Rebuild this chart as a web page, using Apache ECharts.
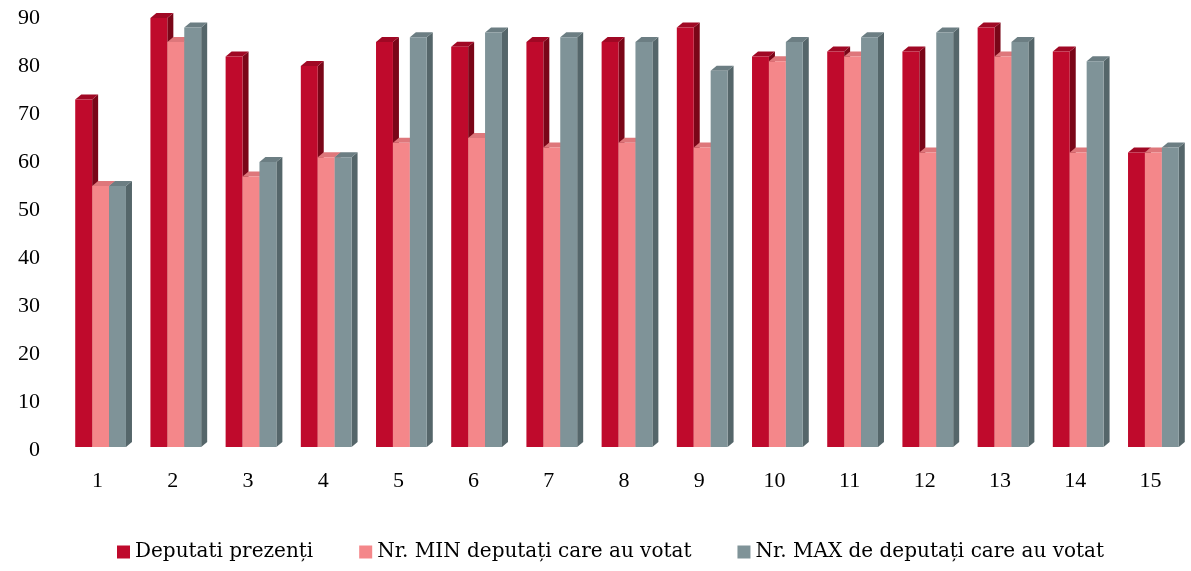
<!DOCTYPE html>
<html>
<head>
<meta charset="utf-8">
<script src="https://cdn.jsdelivr.net/npm/echarts@6/dist/echarts.min.js"></script>
<style>
  html, body { margin: 0; padding: 0; background: #fff; }
  #chart { width: 1191px; height: 571px; }
</style>
</head>
<body>
<div id="chart"></div>
<script>
var categories = ["1","2","3","4","5","6","7","8","9","10","11","12","13","14","15"];
var deputatiPrezenti = [73, 90, 82, 80, 85, 84, 85, 85, 88, 82, 83, 83, 88, 83, 62];
var minVotat = [55, 85, 57, 61, 64, 65, 63, 64, 63, 81, 82, 62, 82, 62, 62];
var maxVotat = [55, 88, 60, 61, 86, 87, 86, 85, 79, 85, 86, 87, 85, 81, 63];
var seriesNames = ["Deputati prezenți", "Nr. MIN deputați care au votat", "Nr. MAX de deputați care au votat"];

var font = "Liberation Serif";

// front, side, top colours
var palette = [
  ["#BF0A2C", "#7A0618", "#A00824"],
  ["#F4878A", "#C45F63", "#DE777B"],
  ["#7F9398", "#55666A", "#6C7E83"]
];

function bar3d(idx) {
  var c = palette[idx];
  return function (params, api) {
    var cat = api.value(0);
    var val = api.value(1);
    var band = api.size([1, 0])[0];
    var w = band * 0.225;
    var base = api.coord([cat, 0]);
    var top = api.coord([cat, val]);
    var x0 = base[0] - 1.5 * w + idx * w + 3;
    var x1 = x0 + w;
    var dx = 6, dy = 5;
    var yb = base[1] - 3;
    return {
      type: "group",
      children: [
        { type: "polygon", shape: { points: [[x1, top[1]], [x1 + dx, top[1] - dy], [x1 + dx, yb - dy], [x1, yb]] }, style: { fill: c[1] } },
        { type: "polygon", shape: { points: [[x0, top[1]], [x0 + dx, top[1] - dy], [x1 + dx, top[1] - dy], [x1, top[1]]] }, style: { fill: c[2] } },
        { type: "rect", shape: { x: x0, y: top[1], width: w, height: yb - top[1] }, style: { fill: c[0] } }
      ]
    };
  };
}

function toData(arr) {
  return arr.map(function (v, i) { return [i, v]; });
}

var myChart = echarts.init(document.getElementById("chart"));
var option = {
  animation: false,
  textStyle: { fontFamily: font },
  grid: { left: 60, right: 3, top: 18, bottom: 121 },
  legend: {
    bottom: 4,
    left: 112,
    icon: "rect",
    itemWidth: 13,
    itemHeight: 13,
    itemGap: 46,
    textStyle: { fontFamily: "DejaVu Serif", fontSize: 20, color: "#000" },
    data: seriesNames
  },
  xAxis: {
    type: "category",
    data: categories,
    axisLine: { show: false },
    axisTick: { show: false },
    axisLabel: { fontFamily: font, fontSize: 22, color: "#000", margin: 20 }
  },
  yAxis: {
    type: "value",
    min: 0,
    max: 90,
    interval: 10,
    splitLine: { show: false },
    axisLine: { show: false },
    axisTick: { show: false },
    axisLabel: { fontFamily: font, fontSize: 22, color: "#000", margin: 20 }
  },
  series: [
    { name: seriesNames[0], type: "custom", renderItem: bar3d(0), itemStyle: { color: palette[0][0] }, encode: { x: 0, y: 1 }, data: toData(deputatiPrezenti) },
    { name: seriesNames[1], type: "custom", renderItem: bar3d(1), itemStyle: { color: palette[1][0] }, encode: { x: 0, y: 1 }, data: toData(minVotat) },
    { name: seriesNames[2], type: "custom", renderItem: bar3d(2), itemStyle: { color: palette[2][0] }, encode: { x: 0, y: 1 }, data: toData(maxVotat) }
  ]
};
myChart.setOption(option);
</script>
</body>
</html>
